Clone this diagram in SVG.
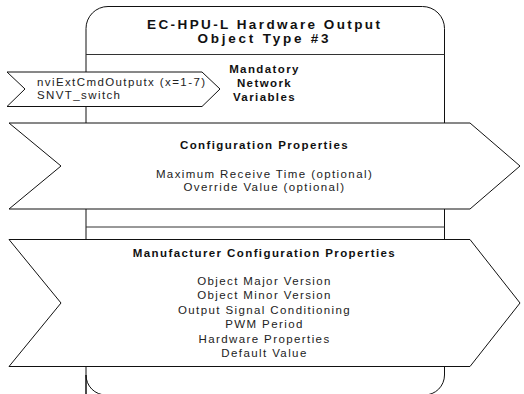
<svg xmlns="http://www.w3.org/2000/svg" width="524" height="394" viewBox="0 0 524 394">
<style>
text{font-family:"Liberation Sans",Arial,sans-serif;fill:#222}
.t{font-size:13.5px;font-weight:bold;letter-spacing:2px;text-anchor:middle;fill:#111}
.h{font-size:11.5px;font-weight:bold;letter-spacing:1.4px;text-anchor:middle;fill:#111}
.b{font-size:11.5px;letter-spacing:1.4px;text-anchor:middle}
.l{font-size:11.5px;letter-spacing:1.4px}
.s{fill:#fff;stroke:#111;stroke-width:1}
.ln{stroke:#333;stroke-width:1;fill:none}
</style>
<rect width="524" height="394" fill="#fff"/>
<g id="object">
<path class="s" d="M86,395 V28.5 A22,22 0 0 1 108,6.5 H422.5 A22,22 0 0 1 444.5,28.5 V375 A20,20 0 0 1 424.5,395 H106 A20,20 0 0 1 86,375 Z"/>
<line class="ln" x1="86" y1="54.5" x2="444.5" y2="54.5"/>
<line class="ln" x1="86" y1="227" x2="444.5" y2="227"/>
<text class="t" x="264.5" y="28.7" textLength="235" lengthAdjust="spacing">EC-HPU-L Hardware Output</text>
<text class="t" x="264" y="43.3" textLength="133" lengthAdjust="spacing">Object Type #3</text>
<text class="h" x="264.5" y="73">Mandatory</text>
<text class="h" x="264.5" y="87.3">Network</text>
<text class="h" x="264.5" y="101.3">Variables</text>
</g>
<g id="input-nv">
<polygon class="s" points="7,72 202,72 220,89 202,106.5 7,106.5 25,89"/>
<text class="l" x="37" y="86.3">nviExtCmdOutputx (x=1-7)</text>
<text class="l" x="37" y="98.7">SNVT_switch</text>
</g>
<g id="config-props">
<polygon class="s" points="9,123 470,123 520,166 470,209 9,209 61,166"/>
<text class="h" x="264.5" y="148.5">Configuration Properties</text>
<text class="b" x="264.5" y="178.3">Maximum Receive Time (optional)</text>
<text class="b" x="264.5" y="191">Override Value (optional)</text>
</g>
<g id="mfr-config-props">
<polygon class="s" points="9,239.5 470,239.5 520,303 470,366.5 9,366.5 61,303"/>
<text class="h" x="264.5" y="256.7">Manufacturer Configuration Properties</text>
<text class="b" x="264.5" y="285">Object Major Version</text>
<text class="b" x="264.5" y="299.4">Object Minor Version</text>
<text class="b" x="264.5" y="313.8">Output Signal Conditioning</text>
<text class="b" x="264.5" y="328.2">PWM Period</text>
<text class="b" x="264.5" y="342.6">Hardware Properties</text>
<text class="b" x="264.5" y="357">Default Value</text>
</g>
</svg>
